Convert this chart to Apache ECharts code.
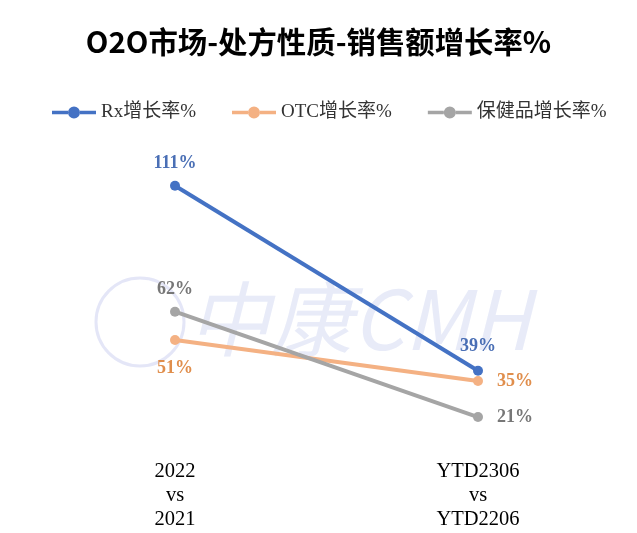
<!DOCTYPE html>
<html><head><meta charset="utf-8">
<script src="https://cdn.jsdelivr.net/npm/echarts@6/dist/echarts.min.js"></script>
<style>html,body{margin:0;padding:0;background:#fff}#c{width:637px;height:533px}</style>
</head><body><div id="c"></div>
<script>
const categories = ['2022\nvs\n2021', 'YTD2306\nvs\nYTD2206'];
const seriesNames = ['Rx增长率%', 'OTC增长率%', '保健品增长率%'];
const rxValues = [111, 39];
const otcValues = [51, 35];
const healthValues = [62, 21];

const chart = echarts.init(document.getElementById('c'));
const serif = '"Liberation Serif","Times New Roman","Noto Sans CJK SC",serif';
const legendIcon = 'path://M0,4.2L16,4.2L16,7.8L0,7.8Z M28,4.2L44,4.2L44,7.8L28,7.8Z M16,6A6,6 0 1,1 28,6A6,6 0 1,1 16,6Z';
function mk(name, data, color, labelColor, positions) {
  return {
    name, type: 'line',
    symbol: 'circle', symbolSize: 10,
    lineStyle: { width: 4, color },
    itemStyle: { color },
    label: {
      show: true, fontFamily: serif, fontWeight: 'bold', fontSize: 18, color: labelColor,
      formatter: p => p.value + '%'
    },
    data: data.map((v, i) => ({ value: v, label: positions[i] }))
  };
}
chart.setOption({
  animation: false,
  title: {
    text: 'O2O市场-处方性质-销售额增长率%', left: 'center', top: 22,
    textStyle: { fontFamily: '"Noto Sans CJK SC",sans-serif', fontWeight: 'bold', fontSize: 29.4, color: '#000' }
  },
  legend: {
    top: 98, left: 47, itemGap: 36, itemWidth: 44, itemHeight: 12,
    textStyle: { fontFamily: serif, fontSize: 19, color: '#333' },
    data: seriesNames.map(n => ({ name: n, icon: legendIcon }))
  },
  graphic: [{
    type: 'text', left: 188, top: 278, z: -1,
    style: { text: '中康CMH', fontSize: 82, fontFamily: '"Noto Sans CJK SC",serif', fontStyle: 'italic', fill: 'rgba(205,210,240,0.45)' }
  }, {
    type: 'circle', shape: { cx: 140, cy: 322, r: 44 }, z: -1,
    style: { fill: 'none', stroke: 'rgba(205,210,240,0.55)', lineWidth: 3 }
  }],
  grid: { left: 23.5, right: 7.5, top: 162.7, bottom: 62 },
  xAxis: {
    type: 'category', data: categories, boundaryGap: true,
    axisLine: { show: false }, axisTick: { show: false }, splitLine: { show: false },
    axisLabel: { fontFamily: serif, fontSize: 20.5, lineHeight: 24, color: '#000', margin: -11 }
  },
  yAxis: { type: 'value', min: 0, max: 120, show: false, splitLine: { show: false } },
  series: [
    mk(seriesNames[0], rxValues, '#4472C4', '#4A6FB5', [{ position: 'top', distance: 8 }, { position: 'top', distance: 10 }]),
    mk(seriesNames[1], otcValues, '#F4B183', '#E08E4C', [{ position: 'bottom', distance: 14 }, { position: 'right', distance: 14 }]),
    mk(seriesNames[2], healthValues, '#A5A5A5', '#777777', [{ position: 'top', distance: 8 }, { position: 'right', distance: 14 }])
  ]
});
</script></body></html>
